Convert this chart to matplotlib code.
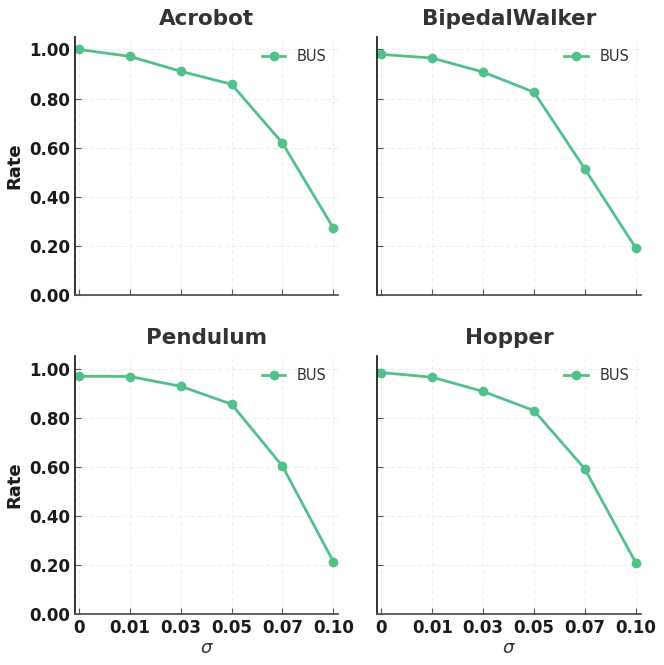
import matplotlib
matplotlib.use('Agg')
import matplotlib.pyplot as plt
from matplotlib.ticker import FormatStrFormatter

# === DADOS ===
sigmas = ['0', '0.01', '0.03', '0.05', '0.07', '0.10']
ambientes = ['Acrobot', 'BipedalWalker', 'Pendulum', 'Hopper']
acrobot = [1.00, 0.972, 0.911, 0.858, 0.618, 0.272]
bipedal = [0.980, 0.965, 0.908, 0.826, 0.513, 0.191]
pendulum = [0.969, 0.968, 0.928, 0.855, 0.602, 0.213]
hopper = [0.984, 0.965, 0.907, 0.829, 0.591, 0.209]
series = [acrobot, bipedal, pendulum, hopper]

cor = '#52c08a'

fig, axes = plt.subplots(2, 2, figsize=(6.64, 6.65), dpi=100, sharex=True, sharey=True)
plt.subplots_adjust(left=0.113, right=0.965, top=0.944, bottom=0.077, wspace=0.148, hspace=0.24)

x = list(range(len(sigmas)))
for i, (ax, nome, vals) in enumerate(zip(axes.flat, ambientes, series)):
    ax.plot(x, vals, color=cor, linewidth=2, marker='o', markersize=6, label='BUS')
    ax.set_title(nome, fontsize=15.5, fontweight='bold', color='#333333', pad=9)
    ax.set_ylim(0, 1.05)
    ax.set_xlim(-0.08, 5.1)
    ax.set_xticks(x)
    ax.set_xticklabels(sigmas)
    ax.set_yticks([0, 0.2, 0.4, 0.6, 0.8, 1.0])
    ax.yaxis.set_major_formatter(FormatStrFormatter('%.2f'))
    ax.grid(True, linestyle=(0, (4, 3)), color='#ececec', linewidth=0.7)
    for s in ['top', 'right']:
        ax.spines[s].set_visible(False)
    ax.spines['left'].set_color('#222222')
    ax.spines['bottom'].set_color('#555555')
    ax.spines['left'].set_linewidth(1.3)
    ax.spines['bottom'].set_linewidth(1.3)
    ax.tick_params(direction='in', length=4, color='#555555', labelsize=12, labelcolor='#1a1a1a')
    for lab in ax.get_xticklabels() + ax.get_yticklabels():
        lab.set_fontweight('bold')
    ax.legend(loc='upper right', frameon=False, fontsize=10.5, labelcolor='#333333',
              handlelength=1.6, borderaxespad=0.4)
    if i % 2 == 0:
        ax.set_ylabel('Rate', fontsize=13, fontweight='bold', color='#1a1a1a')
    if i >= 2:
        ax.set_xlabel(r'$\sigma$', fontsize=13, color='#333333', labelpad=2)

plt.savefig('out.png', dpi=100)
